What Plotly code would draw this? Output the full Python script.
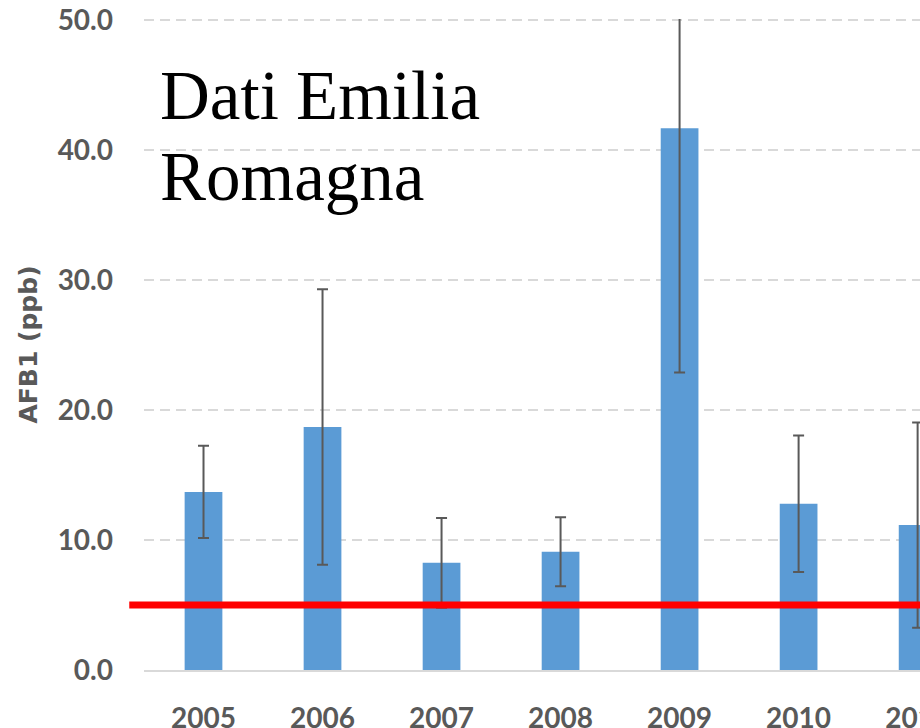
import plotly.graph_objects as go

years = ["2005", "2006", "2007", "2008", "2009", "2010", "2011"]
afb1_mean = [13.7, 18.7, 8.25, 9.1, 41.7, 12.8, 11.15]
afb1_err = [3.55, 10.6, 3.45, 2.65, 18.8, 5.25, 7.9]
limit_value = 5.0
y_ticks = [0, 10, 20, 30, 40, 50]

fig = go.Figure()
fig.add_trace(go.Bar(
    x=years, y=afb1_mean,
    width=0.317,
    marker=dict(color="#5b9bd5", line=dict(color="#5b9bd5", width=0)),
    error_y=dict(type="data", array=afb1_err, visible=True,
                 color="#595959", thickness=2, width=5.5),
))

fig.add_shape(type="line", xref="paper", yref="y",
              x0=-0.019, x1=1.0, y0=limit_value, y1=limit_value,
              line=dict(color="#ff0000", width=7), layer="above")

fig.add_annotation(text="Dati Emilia", xref="paper", yref="paper",
                   x=0.018, y=0.882, xanchor="left", yanchor="middle",
                   showarrow=False,
                   font=dict(family="Liberation Serif", size=69, color="#000000"))
fig.add_annotation(text="Romagna", xref="paper", yref="paper",
                   x=0.018, y=0.758, xanchor="left", yanchor="middle",
                   showarrow=False,
                   font=dict(family="Liberation Serif", size=69, color="#000000"))

fig.update_layout(
    width=920, height=728,
    margin=dict(l=144, r=0, t=19, b=58, autoexpand=False),
    paper_bgcolor="white", plot_bgcolor="white",
    showlegend=False,
    xaxis=dict(
        type="category", range=[-0.5, 6.02],
        showgrid=False, zeroline=False,
        showline=True, linecolor="#d9d9d9", linewidth=2,
        ticks="", ticklabelstandoff=22, ticklabeloverflow="allow",
        tickfont=dict(family="Lato", size=28, color="#595959", weight="bold"),
    ),
    yaxis=dict(
        range=[0, 50.1], tickvals=y_ticks, tickformat=".1f",
        showgrid=True, gridcolor="#d9d9d9", gridwidth=1.5, griddash="10px,6px",
        zeroline=False, showline=False, ticks="", ticklabelstandoff=30,
        ticklabeloverflow="allow",
        tickfont=dict(family="Lato", size=28, color="#595959", weight="bold"),
        title=dict(text="AFB1 (ppb)", standoff=12,
                   font=dict(family="DejaVu Sans", size=25, color="#595959", weight="bold")),
    ),
)

fig.write_html("out.html",
               config={"displayModeBar": False},
               post_script="document.body.style.margin='0';document.body.style.overflow='hidden';")
